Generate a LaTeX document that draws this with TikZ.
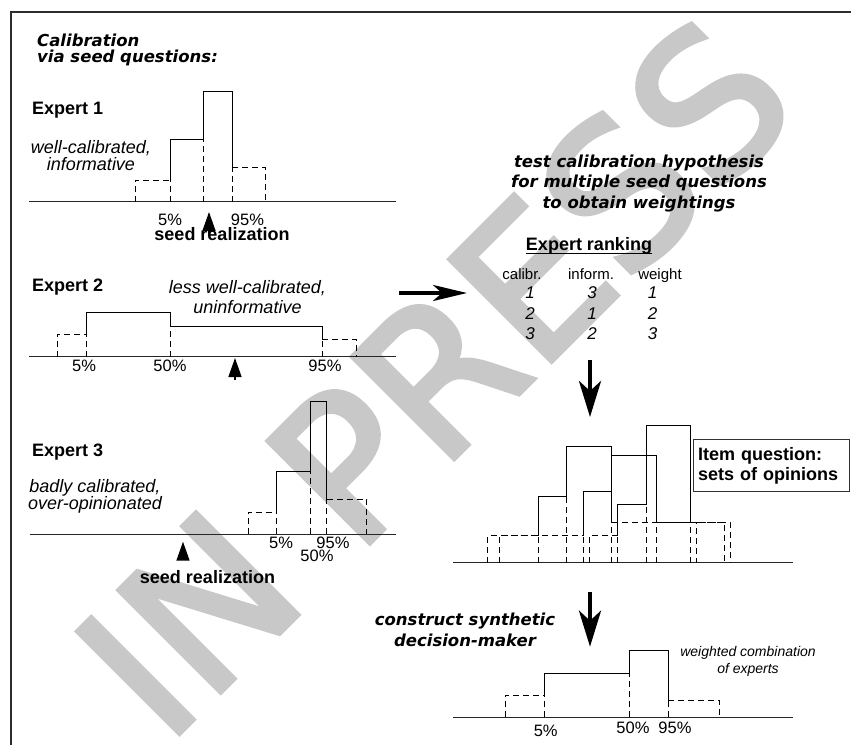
\documentclass[tikz,border=0pt]{standalone}
\usepackage{fontspec}
\setmainfont{Liberation Sans}
\newfontfamily\verdfont{DejaVu Sans}
\newfontfamily\wmfont{DejaVu Sans}[FakeBold=2.5]
\usepackage{tikz}
\usetikzlibrary{arrows.meta,positioning}
\definecolor{wmgray}{RGB}{200,200,200}
\definecolor{framegray}{RGB}{45,45,45}

\newcommand\axy{0}
\newcommand\drawhist[9]{%
  \draw[tail] (#1,\axy) |- (#2,#6);
  \draw[tail] (#4,#9) -| (#5,\axy);
  \draw[tail] (#2,\axy) -- (#2,#6);
  \draw[tail] (#3,\axy) -- (#3,{max(#7,#8)});
  \draw[tail] (#4,\axy) -- (#4,#9);
  \draw[bar] (#2,#6) |- (#3,#7) |- (#4,#8) -- (#4,#9);
}

\begin{document}
\begin{tikzpicture}[
  x=1pt, y=-1pt,
  lbl/.style={inner sep=0pt, anchor=base},
  expert/.style={lbl, anchor=base west, font=\fontsize{18}{21}\selectfont\bfseries},
  boldlbl/.style={lbl, font=\fontsize{18}{21}\selectfont\bfseries},
  desc/.style={lbl, align=center, font=\fontsize{18}{17}\selectfont\itshape},
  pct/.style={lbl, font=\fontsize{16.5}{20}\selectfont},
  head/.style={lbl, align=center,
    font=\verdfont\fontsize{16.5}{20.5}\selectfont\bfseries\itshape},
  colhead/.style={lbl, font=\fontsize{15}{18}\selectfont},
  rankno/.style={lbl, font=\fontsize{17}{20}\selectfont\itshape},
  itembox/.style={draw=black!80, line width=0.9pt, anchor=north west,
    text width=146pt, inner xsep=5pt, minimum height=52pt, align=left,
    font=\fontsize{18}{20}\selectfont\bfseries},
  wm/.style={rotate=45, inner sep=0pt, text=wmgray,
    font=\wmfont\fontsize{198}{198}\selectfont},
  bar/.style={line width=0.9pt},
  tail/.style={line width=0.9pt, dash pattern=on 6pt off 4pt},
  axis/.style={line width=1.2pt, black!85},
  frame/.style={line width=2pt, draw=framegray},
  flow/.style={line width=4pt, -{Stealth[length=34pt, width=16pt, inset=9pt]}},
  down/.style={line width=4.5pt, -{Stealth[length=36pt, width=22pt, inset=10pt]}},
  seed/.style={line width=1.5pt, -{Triangle[length=19pt, width=13pt]}}
]
  \useasboundingbox (0,0) rectangle (851,745);
  \node[wm] (watermark) at (434,377) {IN PRESS};
  \draw[frame] (11,745) -- (11,11.7) -- (851,11.7);

  \node[head, anchor=base west, align=left,
    font=\verdfont\fontsize{16.5}{15.5}\selectfont\bfseries\itshape] (calib)
    at (37,62) {Calibration\\via seed questions:};

  \node[expert] (exp1) at (32,114) {Expert 1};
  \node[desc] (desc1) at (91,170.7) {well-calibrated,\\informative};
  \draw[axis] (29,201.7) -- (396,201.7);
  \renewcommand\axy{201.7}
  \drawhist{135}{170}{203}{232}{265}{180}{139}{91}{167}
  \node[pct] (q1lo) at (170,225) {5\%};
  \node[pct] (q1hi) at (247.5,225) {95\%};
  \coordinate (s1b) at (209,234);
  \coordinate (s1t) at (209,212);
  \draw[seed] (s1b) -- (s1t);
  \node[boldlbl] (real1) at (222,240) {seed realization};

  \node[expert] (exp2) at (32,291.6) {Expert 2};
  \node[desc, font=\fontsize{18}{20}\selectfont\itshape] (desc2)
    at (247.5,313) {less well-calibrated,\\uninformative};
  \draw[axis] (29,356.7) -- (396,356.7);
  \renewcommand\axy{356.7}
  \drawhist{57}{86}{170}{322}{356}{334}{312.7}{326}{339}
  \node[pct] (q2lo) at (84,371.7) {5\%};
  \node[pct] (q2md) at (170,371.7) {50\%};
  \node[pct] (q2hi) at (325,371.7) {95\%};
  \coordinate (s2b) at (235,380);
  \coordinate (s2t) at (235,358);
  \draw[seed] (s2b) -- (s2t);

  \node[expert] (exp3) at (32,456.7) {Expert 3};
  \node[desc] (desc3) at (95,509) {badly calibrated,\\over-opinionated};
  \draw[axis] (30,534.3) -- (396,534.3);
  \renewcommand\axy{534.3}
  \drawhist{248}{276}{310.7}{326.7}{366.7}{512}{471.7}{401.7}{499}
  \node[pct] (q3lo) at (281,548) {5\%};
  \node[pct] (q3hi) at (333,548) {95\%};
  \node[pct] (q3md) at (317,561.7) {50\%};
  \coordinate (s3b) at (183,557);
  \coordinate (s3t) at (183,541.7);
  \draw[seed] (s3b) -- (s3t);
  \node[boldlbl] (real3) at (207.5,583) {seed realization};

  \coordinate (f1s) at (399,293);
  \coordinate (f1e) at (467,293);
  \draw[flow] (f1s) -- (f1e);

  \node[head] (test) at (639,208)
    {test calibration hypothesis\\for multiple seed questions\\to obtain weightings};
  \node[boldlbl] (rank) at (589,250) {Expert ranking};
  \draw[line width=1pt] ([yshift=-3pt]rank.base west) -- ([yshift=-3pt]rank.base east);
  \node[colhead] (hcal) at (522,279.3) {calibr.};
  \node[colhead] (hinf) at (591,279.3) {inform.};
  \node[colhead] (hwgt) at (660,279.3) {weight};
  \foreach \c/\i/\w [count=\r] in {1/3/1, 2/1/2, 3/2/3} {
    \node[rankno] (cal\r) at (530,{277.2+20.9*\r}) {\c};
    \node[rankno] (inf\r) at (592,{277.2+20.9*\r}) {\i};
    \node[rankno] (wgt\r) at (652.5,{277.2+20.9*\r}) {\w};
  }

  \coordinate (d1s) at (590,360);
  \coordinate (d1e) at (590,417);
  \draw[down] (d1s) -- (d1e);

  \draw[axis] (453,562.7) -- (793,562.7);
  \renewcommand\axy{562.7}
  \drawhist{487.7}{538.3}{566.7}{611.7}{696}{535.7}{496.7}{446.7}{522.3}
  \drawhist{499}{583.3}{611.7}{656.7}{724}{535.7}{491}{455.7}{522.3}
  \drawhist{589.3}{617.7}{646}{690}{730}{535.7}{504.3}{425}{522.3}
  \node[itembox] (item) at (692.7,439) {Item question:\\sets of opinions};

  \coordinate (d2s) at (590,591.7);
  \coordinate (d2e) at (590,646.7);
  \draw[down] (d2s) -- (d2e);
  \node[head] (synth) at (465,646) {construct synthetic\\decision-maker};

  \draw[axis] (453,717.3) -- (793,717.3);
  \renewcommand\axy{717.3}
  \drawhist{505}{544}{629}{668.3}{719}{695.7}{673.3}{650.7}{700}
  \node[desc, font=\fontsize{14}{16.6}\selectfont\itshape] (comb)
    at (748,673.3) {weighted combination\\of experts};
  \node[pct] (qdlo) at (545.7,736) {5\%};
  \node[pct] (qdmd) at (633,733.3) {50\%};
  \node[pct] (qdhi) at (675,733.3) {95\%};
\end{tikzpicture}
\end{document}
